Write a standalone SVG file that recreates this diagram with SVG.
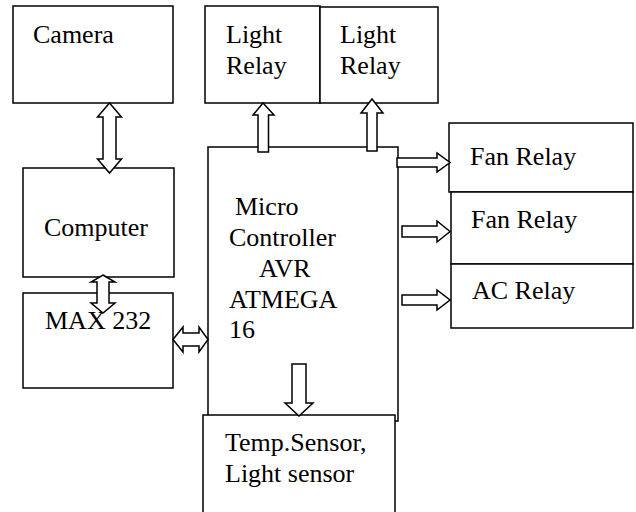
<svg xmlns="http://www.w3.org/2000/svg" width="636" height="512" viewBox="0 0 636 512">
<rect width="636" height="512" fill="#fff"/>
<g id="nodes" fill="#fff" stroke="#000" stroke-width="1.5">
<g id="camera"><rect x="13" y="6" width="160" height="97"/><text x="33" y="43" font-family="Liberation Serif" font-size="26" fill="#000" stroke="none">Camera</text></g>
<g id="computer"><rect x="23" y="168" width="151" height="109"/><text x="44" y="236" font-family="Liberation Serif" font-size="26" fill="#000" stroke="none">Computer</text></g>
<g id="max232"><rect x="23" y="293" width="150" height="95"/><text x="45" y="329" font-family="Liberation Serif" font-size="26" fill="#000" stroke="none">MAX 232</text></g>
<g id="light-relay-1"><rect x="205" y="6" width="115" height="97"/><text x="226" y="43" font-family="Liberation Serif" font-size="26" fill="#000" stroke="none">Light</text><text x="226" y="74" font-family="Liberation Serif" font-size="26" fill="#000" stroke="none">Relay</text></g>
<g id="light-relay-2"><rect x="320" y="7" width="118" height="96"/><text x="340" y="43" font-family="Liberation Serif" font-size="26" fill="#000" stroke="none">Light</text><text x="340" y="74" font-family="Liberation Serif" font-size="26" fill="#000" stroke="none">Relay</text></g>
<g id="micro"><rect x="208" y="147" width="190" height="274"/><text x="235" y="215" font-family="Liberation Serif" font-size="26" fill="#000" stroke="none">Micro</text><text x="229" y="246" font-family="Liberation Serif" font-size="26" fill="#000" stroke="none">Controller</text><text x="259" y="277" font-family="Liberation Serif" font-size="26" fill="#000" stroke="none">AVR</text><text x="229" y="308" font-family="Liberation Serif" font-size="26" fill="#000" stroke="none">ATMEGA</text><text x="229" y="338" font-family="Liberation Serif" font-size="26" fill="#000" stroke="none">16</text></g>
<g id="fan-relay-1"><rect x="449" y="123" width="184" height="69"/><text x="470" y="165" font-family="Liberation Serif" font-size="26" fill="#000" stroke="none">Fan Relay</text></g>
<g id="fan-relay-2"><rect x="451" y="192" width="182" height="72"/><text x="471" y="228" font-family="Liberation Serif" font-size="26" fill="#000" stroke="none">Fan Relay</text></g>
<g id="ac-relay"><rect x="451" y="264" width="182" height="64"/><text x="472" y="299" font-family="Liberation Serif" font-size="26" fill="#000" stroke="none">AC Relay</text></g>
<g id="sensors"><rect x="203" y="415" width="192" height="110"/><text x="225" y="451" font-family="Liberation Serif" font-size="26" fill="#000" stroke="none">Temp.Sensor,</text><text x="225" y="482" font-family="Liberation Serif" font-size="26" fill="#000" stroke="none">Light sensor</text></g>
</g>
<g id="connectors" fill="#fff" stroke="#000" stroke-width="1.5">
<path d="M109.5,103 L121.5,117 L116,117 L116,159 L121.5,159 L109.5,173 L97.5,159 L103,159 L103,117 L97.5,117 Z"/>
<path d="M103,275 L115,282 L109,282 L109,303 L115,303 L103,313 L91,303 L97,303 L97,282 L91,282 Z"/>
<path d="M173,339.5 L183,327 L183,333 L199,333 L199,327 L208,339.5 L199,352 L199,346 L183,346 L183,352 Z"/>
<path d="M263,103 L274,115 L268.5,115 L268.5,152 L258,152 L258,115 L253,115 Z"/>
<path d="M372,99 L383,113 L377,113 L377,151 L367,151 L367,113 L361,113 Z"/>
<path d="M397,158 L437,158 L437,153 L450,162.5 L437,172 L437,167 L397,167 Z"/>
<path d="M402,226 L437,226 L437,221 L450,231.5 L437,242 L437,237 L402,237 Z"/>
<path d="M402,295 L437,295 L437,290 L450,300 L437,310 L437,305 L402,305 Z"/>
<path d="M292,364 L306,364 L306,403 L313,403 L299,416 L285,403 L292,403 Z"/>
</g>
</svg>
